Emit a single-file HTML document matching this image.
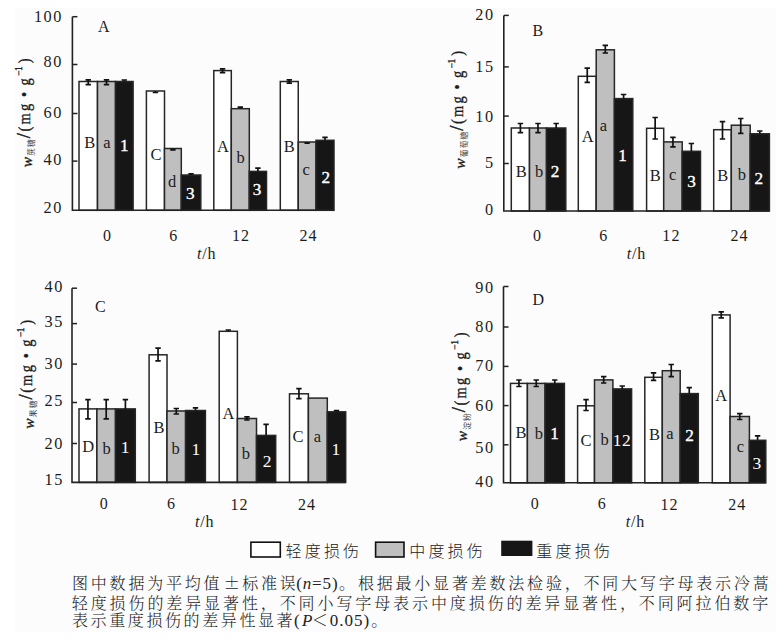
<!DOCTYPE html><html><head><meta charset="utf-8"><style>
html,body{margin:0;padding:0;background:#fff;overflow:hidden;}
svg{display:block;}
text{font-family:"Liberation Serif", serif;}
.cjs{font-family:"Liberation Sans","Noto Sans CJK SC",sans-serif;}
.cjr{font-family:"Liberation Serif","Noto Serif CJK SC",serif;}
</style></head><body>
<svg width="783" height="639" viewBox="0 0 783 639">
<rect width="783" height="639" fill="#fff"/>
<rect x="15.5" y="8" width="760.7" height="623.7" fill="#fcfcfc"/>
<rect x="79" y="81.5" width="18.5" height="128.8" fill="#fff" stroke="#262626" stroke-width="1.5"/>
<rect x="97.5" y="81.5" width="18" height="128.8" fill="#bfbfbf" stroke="#262626" stroke-width="1.5"/>
<rect x="115.5" y="81.5" width="17.6" height="128.8" fill="#161616" stroke="#262626" stroke-width="1.5"/>
<path d="M88.25 79.8V84.6M85.55 79.8H90.95M85.55 84.6H90.95" stroke="#111" stroke-width="1.7" fill="none"/>
<path d="M106.5 79.8V84.6M103.8 79.8H109.2M103.8 84.6H109.2" stroke="#111" stroke-width="1.7" fill="none"/>
<path d="M124.3 80V81.5M121.6 80H127" stroke="#111" stroke-width="1.7" fill="none"/>
<rect x="146.4" y="91" width="18.1" height="119.3" fill="#fff" stroke="#262626" stroke-width="1.5"/>
<rect x="164.5" y="148.5" width="16.8" height="61.8" fill="#bfbfbf" stroke="#262626" stroke-width="1.5"/>
<rect x="181.3" y="175" width="19.5" height="35.3" fill="#161616" stroke="#262626" stroke-width="1.5"/>
<path d="M155.45 91V92.5M152.75 92.5H158.15" stroke="#111" stroke-width="1.7" fill="none"/>
<path d="M172.9 148.5V149.9M170.2 149.9H175.6" stroke="#111" stroke-width="1.7" fill="none"/>
<path d="M191.05 173.8V175M188.35 173.8H193.75" stroke="#111" stroke-width="1.7" fill="none"/>
<rect x="213.8" y="70.6" width="17.5" height="139.7" fill="#fff" stroke="#262626" stroke-width="1.5"/>
<rect x="231.3" y="108.7" width="18" height="101.6" fill="#bfbfbf" stroke="#262626" stroke-width="1.5"/>
<rect x="249.3" y="171.4" width="17.2" height="38.9" fill="#161616" stroke="#262626" stroke-width="1.5"/>
<path d="M222.55 68.9V72.6M219.85 68.9H225.25M219.85 72.6H225.25" stroke="#111" stroke-width="1.7" fill="none"/>
<path d="M240.3 107.1V108.7M237.6 107.1H243" stroke="#111" stroke-width="1.7" fill="none"/>
<path d="M257.9 168.1V171.4M255.2 168.1H260.6" stroke="#111" stroke-width="1.7" fill="none"/>
<rect x="280.3" y="81.5" width="17.95" height="128.8" fill="#fff" stroke="#262626" stroke-width="1.5"/>
<rect x="298.25" y="142" width="17.75" height="68.3" fill="#bfbfbf" stroke="#262626" stroke-width="1.5"/>
<rect x="316" y="140.3" width="18" height="70" fill="#161616" stroke="#262626" stroke-width="1.5"/>
<path d="M289.27 79.9V83.2M286.57 79.9H291.97M286.57 83.2H291.97" stroke="#111" stroke-width="1.7" fill="none"/>
<path d="M307.12 142V143.2M304.43 143.2H309.82" stroke="#111" stroke-width="1.7" fill="none"/>
<path d="M325 137.4V140.3M322.3 137.4H327.7" stroke="#111" stroke-width="1.7" fill="none"/>
<path d="M72.4 16.7V210.3H334" stroke="#222" stroke-width="1.6" fill="none"/>
<path d="M72.4 16.7H77.4" stroke="#222" stroke-width="1.5"/>
<path d="M72.4 64.5H77.4" stroke="#222" stroke-width="1.5"/>
<path d="M72.4 113.5H77.4" stroke="#222" stroke-width="1.5"/>
<path d="M72.4 161.1H77.4" stroke="#222" stroke-width="1.5"/>
<text x="33.97" y="21.69" font-size="16.3" fill="#1c1c1c" letter-spacing="1.5">100</text>
<text x="43.62" y="67.14" font-size="16.3" fill="#1c1c1c" letter-spacing="1.5">80</text>
<text x="43.62" y="118.24" font-size="16.3" fill="#1c1c1c" letter-spacing="1.5">60</text>
<text x="43.62" y="164.84" font-size="16.3" fill="#1c1c1c" letter-spacing="1.5">40</text>
<text x="43.62" y="212.94" font-size="16.3" fill="#1c1c1c" letter-spacing="1.5">20</text>
<text x="102.9" y="240.84" font-size="16" fill="#1c1c1c" letter-spacing="1.1">0</text>
<text x="169.29" y="240.82" font-size="16" fill="#1c1c1c" letter-spacing="1.1">6</text>
<text x="231.99" y="240.9" font-size="16" fill="#1c1c1c" letter-spacing="1.1">12</text>
<text x="299.42" y="240.9" font-size="16" fill="#1c1c1c" letter-spacing="1.1">24</text>
<text x="197.08" y="259.17" font-size="16" letter-spacing="0.8" fill="#1c1c1c"><tspan font-style="italic">t</tspan>/h</text>
<text x="98.1" y="32.08" font-size="16" fill="#1c1c1c">A</text>
<text x="84.26" y="148.48" font-size="16.5" fill="#1c1c1c">B</text>
<text x="103.36" y="148.29" font-size="16.5" fill="#1c1c1c">a</text>
<text x="120.06" y="150.78" font-size="17.2" fill="#fff" stroke="#fff" stroke-width="0.35">1</text>
<text x="150.41" y="159.98" font-size="16.5" fill="#1c1c1c">C</text>
<text x="167.88" y="186.64" font-size="16.5" fill="#1c1c1c">d</text>
<text x="185.97" y="198.91" font-size="17.2" fill="#fff" stroke="#fff" stroke-width="0.35">3</text>
<text x="217.02" y="152.45" font-size="16.5" fill="#1c1c1c">A</text>
<text x="236.59" y="162.64" font-size="16.5" fill="#1c1c1c">b</text>
<text x="252.72" y="195.41" font-size="17.2" fill="#fff" stroke="#fff" stroke-width="0.35">3</text>
<text x="283.66" y="152.38" font-size="16.5" fill="#1c1c1c">B</text>
<text x="302.58" y="174.81" font-size="16.5" fill="#1c1c1c">c</text>
<text x="321.5" y="182.99" font-size="17.2" fill="#fff" stroke="#fff" stroke-width="0.35">2</text>
<g transform="translate(30.4 167.3) rotate(-90)">
<text transform="translate(-0.07 1.6) scale(1 1)" font-size="15.5" fill="#1c1c1c" stroke="#1c1c1c" stroke-width="0.35" font-style="italic">w</text>
<text class="cjs" x="11.46" y="4" font-size="7.8" fill="#444">蔗</text>
<text class="cjs" x="20.31" y="4" font-size="7.8" fill="#444">糖</text>
<text transform="translate(29 -0.4) scale(1 1)" font-size="18.5" fill="#1c1c1c" stroke="#1c1c1c" stroke-width="0.35">/</text>
<text transform="translate(35.77 0) scale(0.9 1)" font-size="16" fill="#1c1c1c" stroke="#1c1c1c" stroke-width="0.35">(</text>
<text transform="translate(42.7 0) scale(0.9 1)" font-size="16" fill="#1c1c1c" stroke="#1c1c1c" stroke-width="0.35">m</text>
<text transform="translate(56.28 0) scale(0.9 1)" font-size="16" fill="#1c1c1c" stroke="#1c1c1c" stroke-width="0.35">g</text>
<text transform="translate(70.29 0) scale(0.9 1)" font-size="16" fill="#1c1c1c" stroke="#1c1c1c" stroke-width="0.35">•</text>
<text transform="translate(81.78 0) scale(0.9 1)" font-size="16" fill="#1c1c1c" stroke="#1c1c1c" stroke-width="0.35">g</text>
<text transform="translate(91.53 -8.2) scale(1 1)" font-size="9.5" fill="#1c1c1c" stroke="#1c1c1c" stroke-width="0.35">−</text>
<text transform="translate(96.37 -8.2) scale(1 1)" font-size="9.5" fill="#1c1c1c" stroke="#1c1c1c" stroke-width="0.35">1</text>
<text transform="translate(103.94 0) scale(0.9 1)" font-size="16" fill="#1c1c1c" stroke="#1c1c1c" stroke-width="0.35">)</text>
</g>
<rect x="511.3" y="128" width="18.2" height="83" fill="#fff" stroke="#262626" stroke-width="1.5"/>
<rect x="529.5" y="128" width="17" height="83" fill="#bfbfbf" stroke="#262626" stroke-width="1.5"/>
<rect x="546.5" y="128" width="19.3" height="83" fill="#161616" stroke="#262626" stroke-width="1.5"/>
<path d="M520.4 123.5V132.6M517.7 123.5H523.1M517.7 132.6H523.1" stroke="#111" stroke-width="1.7" fill="none"/>
<path d="M538 123.5V132.6M535.3 123.5H540.7M535.3 132.6H540.7" stroke="#111" stroke-width="1.7" fill="none"/>
<path d="M556.15 123.5V128M553.45 123.5H558.85" stroke="#111" stroke-width="1.7" fill="none"/>
<rect x="578.3" y="76.3" width="17.9" height="134.7" fill="#fff" stroke="#262626" stroke-width="1.5"/>
<rect x="596.2" y="49.8" width="18.2" height="161.2" fill="#bfbfbf" stroke="#262626" stroke-width="1.5"/>
<rect x="614.4" y="98.6" width="18.4" height="112.4" fill="#161616" stroke="#262626" stroke-width="1.5"/>
<path d="M587.25 68.2V82.4M584.55 68.2H589.95M584.55 82.4H589.95" stroke="#111" stroke-width="1.7" fill="none"/>
<path d="M605.3 45.4V53M602.6 45.4H608M602.6 53H608" stroke="#111" stroke-width="1.7" fill="none"/>
<path d="M623.6 94.5V98.6M620.9 94.5H626.3" stroke="#111" stroke-width="1.7" fill="none"/>
<rect x="646.6" y="128.3" width="17.1" height="82.7" fill="#fff" stroke="#262626" stroke-width="1.5"/>
<rect x="663.7" y="141.9" width="18.5" height="69.1" fill="#bfbfbf" stroke="#262626" stroke-width="1.5"/>
<rect x="682.2" y="151.3" width="18.3" height="59.7" fill="#161616" stroke="#262626" stroke-width="1.5"/>
<path d="M655.15 117.5V139M652.45 117.5H657.85M652.45 139H657.85" stroke="#111" stroke-width="1.7" fill="none"/>
<path d="M672.95 137.4V146.8M670.25 137.4H675.65M670.25 146.8H675.65" stroke="#111" stroke-width="1.7" fill="none"/>
<path d="M691.35 143.5V151.3M688.65 143.5H694.05" stroke="#111" stroke-width="1.7" fill="none"/>
<rect x="713.7" y="129.7" width="17.6" height="81.3" fill="#fff" stroke="#262626" stroke-width="1.5"/>
<rect x="731.3" y="125.2" width="18.9" height="85.8" fill="#bfbfbf" stroke="#262626" stroke-width="1.5"/>
<rect x="750.2" y="133.8" width="19.2" height="77.2" fill="#161616" stroke="#262626" stroke-width="1.5"/>
<path d="M722.5 121.6V139M719.8 121.6H725.2M719.8 139H725.2" stroke="#111" stroke-width="1.7" fill="none"/>
<path d="M740.75 118.5V133.3M738.05 118.5H743.45M738.05 133.3H743.45" stroke="#111" stroke-width="1.7" fill="none"/>
<path d="M759.8 131V133.8M757.1 131H762.5" stroke="#111" stroke-width="1.7" fill="none"/>
<path d="M503.8 15.4V211H769.4" stroke="#222" stroke-width="1.6" fill="none"/>
<path d="M503.8 15.4H508.8" stroke="#222" stroke-width="1.5"/>
<path d="M503.8 66.9H508.8" stroke="#222" stroke-width="1.5"/>
<path d="M503.8 116.1H508.8" stroke="#222" stroke-width="1.5"/>
<path d="M503.8 163.5H508.8" stroke="#222" stroke-width="1.5"/>
<text x="475.32" y="20.29" font-size="16.3" fill="#1c1c1c" letter-spacing="1.5">20</text>
<text x="475.34" y="72" font-size="16.3" fill="#1c1c1c" letter-spacing="1.5">15</text>
<text x="475.32" y="122.44" font-size="16.3" fill="#1c1c1c" letter-spacing="1.5">10</text>
<text x="484.99" y="168.16" font-size="16.3" fill="#1c1c1c" letter-spacing="1.5">5</text>
<text x="484.97" y="215.44" font-size="16.3" fill="#1c1c1c" letter-spacing="1.5">0</text>
<text x="532.9" y="240.84" font-size="16" fill="#1c1c1c" letter-spacing="1.1">0</text>
<text x="599.29" y="240.82" font-size="16" fill="#1c1c1c" letter-spacing="1.1">6</text>
<text x="662.29" y="240.9" font-size="16" fill="#1c1c1c" letter-spacing="1.1">12</text>
<text x="730.42" y="240.9" font-size="16" fill="#1c1c1c" letter-spacing="1.1">24</text>
<text x="626.78" y="259.17" font-size="16" letter-spacing="0.8" fill="#1c1c1c"><tspan font-style="italic">t</tspan>/h</text>
<text x="532.62" y="35.51" font-size="16" fill="#1c1c1c">B</text>
<text x="515.66" y="176.58" font-size="16.5" fill="#1c1c1c">B</text>
<text x="534.94" y="176.84" font-size="16.5" fill="#1c1c1c">b</text>
<text x="550.8" y="177.29" font-size="17.2" fill="#fff" stroke="#fff" stroke-width="0.35">2</text>
<text x="581.72" y="142.15" font-size="16.5" fill="#1c1c1c">A</text>
<text x="599.86" y="130.79" font-size="16.5" fill="#1c1c1c">a</text>
<text x="618.36" y="161.48" font-size="17.2" fill="#fff" stroke="#fff" stroke-width="0.35">1</text>
<text x="649.86" y="180.98" font-size="16.5" fill="#1c1c1c">B</text>
<text x="668.88" y="180.31" font-size="16.5" fill="#1c1c1c">c</text>
<text x="687.32" y="186.61" font-size="17.2" fill="#fff" stroke="#fff" stroke-width="0.35">3</text>
<text x="717.36" y="180.98" font-size="16.5" fill="#1c1c1c">B</text>
<text x="737.79" y="179.94" font-size="16.5" fill="#1c1c1c">b</text>
<text x="754.5" y="183.69" font-size="17.2" fill="#fff" stroke="#fff" stroke-width="0.35">2</text>
<g transform="translate(463.1 168.6) rotate(-90)">
<text transform="translate(-0.07 1.6) scale(1 1)" font-size="15.5" fill="#1c1c1c" stroke="#1c1c1c" stroke-width="0.35" font-style="italic">w</text>
<text class="cjs" x="11.46" y="4" font-size="7.8" fill="#444">葡</text>
<text class="cjs" x="20.31" y="4" font-size="7.8" fill="#444">萄</text>
<text class="cjs" x="29.16" y="4" font-size="7.8" fill="#444">糖</text>
<text transform="translate(37.8 -0.4) scale(1 1)" font-size="18.5" fill="#1c1c1c" stroke="#1c1c1c" stroke-width="0.35">/</text>
<text transform="translate(44.57 0) scale(0.9 1)" font-size="16" fill="#1c1c1c" stroke="#1c1c1c" stroke-width="0.35">(</text>
<text transform="translate(51.5 0) scale(0.9 1)" font-size="16" fill="#1c1c1c" stroke="#1c1c1c" stroke-width="0.35">m</text>
<text transform="translate(65.08 0) scale(0.9 1)" font-size="16" fill="#1c1c1c" stroke="#1c1c1c" stroke-width="0.35">g</text>
<text transform="translate(79.09 0) scale(0.9 1)" font-size="16" fill="#1c1c1c" stroke="#1c1c1c" stroke-width="0.35">•</text>
<text transform="translate(90.58 0) scale(0.9 1)" font-size="16" fill="#1c1c1c" stroke="#1c1c1c" stroke-width="0.35">g</text>
<text transform="translate(100.33 -8.2) scale(1 1)" font-size="9.5" fill="#1c1c1c" stroke="#1c1c1c" stroke-width="0.35">−</text>
<text transform="translate(105.17 -8.2) scale(1 1)" font-size="9.5" fill="#1c1c1c" stroke="#1c1c1c" stroke-width="0.35">1</text>
<text transform="translate(112.74 0) scale(0.9 1)" font-size="16" fill="#1c1c1c" stroke="#1c1c1c" stroke-width="0.35">)</text>
</g>
<rect x="79" y="408.9" width="17.9" height="73.5" fill="#fff" stroke="#262626" stroke-width="1.5"/>
<rect x="96.9" y="408.9" width="18.6" height="73.5" fill="#bfbfbf" stroke="#262626" stroke-width="1.5"/>
<rect x="115.5" y="408.9" width="19.8" height="73.5" fill="#161616" stroke="#262626" stroke-width="1.5"/>
<path d="M87.95 399.7V418.8M85.25 399.7H90.65M85.25 418.8H90.65" stroke="#111" stroke-width="1.7" fill="none"/>
<path d="M106.2 399.7V418.8M103.5 399.7H108.9M103.5 418.8H108.9" stroke="#111" stroke-width="1.7" fill="none"/>
<path d="M125.4 399.7V408.9M122.7 399.7H128.1" stroke="#111" stroke-width="1.7" fill="none"/>
<rect x="149.1" y="354.8" width="17.9" height="127.6" fill="#fff" stroke="#262626" stroke-width="1.5"/>
<rect x="167" y="411" width="18.6" height="71.4" fill="#bfbfbf" stroke="#262626" stroke-width="1.5"/>
<rect x="185.6" y="410.5" width="19.8" height="71.9" fill="#161616" stroke="#262626" stroke-width="1.5"/>
<path d="M158.05 348.2V360.9M155.35 348.2H160.75M155.35 360.9H160.75" stroke="#111" stroke-width="1.7" fill="none"/>
<path d="M176.3 408.5V414M173.6 408.5H179M173.6 414H179" stroke="#111" stroke-width="1.7" fill="none"/>
<path d="M195.5 407.8V410.5M192.8 407.8H198.2" stroke="#111" stroke-width="1.7" fill="none"/>
<rect x="219.2" y="331.3" width="18.2" height="151.1" fill="#fff" stroke="#262626" stroke-width="1.5"/>
<rect x="237.4" y="418.5" width="19.1" height="63.9" fill="#bfbfbf" stroke="#262626" stroke-width="1.5"/>
<rect x="256.5" y="435.4" width="19.2" height="47" fill="#161616" stroke="#262626" stroke-width="1.5"/>
<path d="M228.3 330V331.3M225.6 330H231" stroke="#111" stroke-width="1.7" fill="none"/>
<path d="M246.95 416.9V420M244.25 416.9H249.65M244.25 420H249.65" stroke="#111" stroke-width="1.7" fill="none"/>
<path d="M266.1 424.3V435.4M263.4 424.3H268.8" stroke="#111" stroke-width="1.7" fill="none"/>
<rect x="289.5" y="393.8" width="18.9" height="88.6" fill="#fff" stroke="#262626" stroke-width="1.5"/>
<rect x="308.4" y="398.1" width="18.9" height="84.3" fill="#bfbfbf" stroke="#262626" stroke-width="1.5"/>
<rect x="327.3" y="411.8" width="18.4" height="70.6" fill="#161616" stroke="#262626" stroke-width="1.5"/>
<path d="M298.95 388.6V398.6M296.25 388.6H301.65M296.25 398.6H301.65" stroke="#111" stroke-width="1.7" fill="none"/>
<path d="M336.5 410.6V411.8M333.8 410.6H339.2" stroke="#111" stroke-width="1.7" fill="none"/>
<path d="M72 288.2V482.4H345.7" stroke="#222" stroke-width="1.6" fill="none"/>
<path d="M72 288.2H77" stroke="#222" stroke-width="1.5"/>
<path d="M72 323.6H77" stroke="#222" stroke-width="1.5"/>
<path d="M72 364.1H77" stroke="#222" stroke-width="1.5"/>
<path d="M72 402.5H77" stroke="#222" stroke-width="1.5"/>
<path d="M72 443.5H77" stroke="#222" stroke-width="1.5"/>
<text x="44.52" y="291.94" font-size="16.3" fill="#1c1c1c" letter-spacing="1.5">40</text>
<text x="44.54" y="326.82" font-size="16.3" fill="#1c1c1c" letter-spacing="1.5">35</text>
<text x="44.52" y="368.84" font-size="16.3" fill="#1c1c1c" letter-spacing="1.5">30</text>
<text x="44.54" y="406.22" font-size="16.3" fill="#1c1c1c" letter-spacing="1.5">25</text>
<text x="44.52" y="449.34" font-size="16.3" fill="#1c1c1c" letter-spacing="1.5">20</text>
<text x="44.54" y="484.5" font-size="16.3" fill="#1c1c1c" letter-spacing="1.5">15</text>
<text x="99.8" y="509.44" font-size="16" fill="#1c1c1c" letter-spacing="1.1">0</text>
<text x="167.09" y="509.42" font-size="16" fill="#1c1c1c" letter-spacing="1.1">6</text>
<text x="230.49" y="509.5" font-size="16" fill="#1c1c1c" letter-spacing="1.1">12</text>
<text x="297.92" y="509.5" font-size="16" fill="#1c1c1c" letter-spacing="1.1">24</text>
<text x="194.98" y="526.77" font-size="16" letter-spacing="0.8" fill="#1c1c1c"><tspan font-style="italic">t</tspan>/h</text>
<text x="94.98" y="311.82" font-size="16" fill="#1c1c1c">C</text>
<text x="82.23" y="452.29" font-size="16.5" fill="#1c1c1c">D</text>
<text x="102.44" y="453.64" font-size="16.5" fill="#1c1c1c">b</text>
<text x="120.78" y="452.78" font-size="17.5" fill="#fff">1</text>
<text x="153.46" y="432.58" font-size="16.5" fill="#1c1c1c">B</text>
<text x="171.59" y="454.14" font-size="16.5" fill="#1c1c1c">b</text>
<text x="191.38" y="455.38" font-size="17.5" fill="#fff">1</text>
<text x="222.52" y="418.85" font-size="16.5" fill="#1c1c1c">A</text>
<text x="241.69" y="458.94" font-size="16.5" fill="#1c1c1c">b</text>
<text x="262.72" y="467.49" font-size="17.5" fill="#fff">2</text>
<text x="292.61" y="442.18" font-size="16.5" fill="#1c1c1c">C</text>
<text x="313.66" y="442.29" font-size="16.5" fill="#1c1c1c">a</text>
<text x="331.38" y="454.68" font-size="17.5" fill="#fff">1</text>
<g transform="translate(32.4 428.6) rotate(-90)">
<text transform="translate(-0.07 1.6) scale(1 1)" font-size="15.5" fill="#1c1c1c" stroke="#1c1c1c" stroke-width="0.35" font-style="italic">w</text>
<text class="cjs" x="11.46" y="4" font-size="7.8" fill="#444">果</text>
<text class="cjs" x="20.31" y="4" font-size="7.8" fill="#444">糖</text>
<text transform="translate(29 -0.4) scale(1 1)" font-size="18.5" fill="#1c1c1c" stroke="#1c1c1c" stroke-width="0.35">/</text>
<text transform="translate(35.77 0) scale(0.9 1)" font-size="16" fill="#1c1c1c" stroke="#1c1c1c" stroke-width="0.35">(</text>
<text transform="translate(42.7 0) scale(0.9 1)" font-size="16" fill="#1c1c1c" stroke="#1c1c1c" stroke-width="0.35">m</text>
<text transform="translate(56.28 0) scale(0.9 1)" font-size="16" fill="#1c1c1c" stroke="#1c1c1c" stroke-width="0.35">g</text>
<text transform="translate(70.29 0) scale(0.9 1)" font-size="16" fill="#1c1c1c" stroke="#1c1c1c" stroke-width="0.35">•</text>
<text transform="translate(81.78 0) scale(0.9 1)" font-size="16" fill="#1c1c1c" stroke="#1c1c1c" stroke-width="0.35">g</text>
<text transform="translate(91.53 -8.2) scale(1 1)" font-size="9.5" fill="#1c1c1c" stroke="#1c1c1c" stroke-width="0.35">−</text>
<text transform="translate(96.37 -8.2) scale(1 1)" font-size="9.5" fill="#1c1c1c" stroke="#1c1c1c" stroke-width="0.35">1</text>
<text transform="translate(103.94 0) scale(0.9 1)" font-size="16" fill="#1c1c1c" stroke="#1c1c1c" stroke-width="0.35">)</text>
</g>
<rect x="510.5" y="383.4" width="16.9" height="99.4" fill="#fff" stroke="#262626" stroke-width="1.5"/>
<rect x="527.4" y="383.4" width="17.7" height="99.4" fill="#bfbfbf" stroke="#262626" stroke-width="1.5"/>
<rect x="545.1" y="383.4" width="19.3" height="99.4" fill="#161616" stroke="#262626" stroke-width="1.5"/>
<path d="M518.95 380V386.5M516.25 380H521.65M516.25 386.5H521.65" stroke="#111" stroke-width="1.7" fill="none"/>
<path d="M536.25 380V386.5M533.55 380H538.95M533.55 386.5H538.95" stroke="#111" stroke-width="1.7" fill="none"/>
<path d="M554.75 380V383.4M552.05 380H557.45" stroke="#111" stroke-width="1.7" fill="none"/>
<rect x="577.6" y="405.8" width="16.9" height="77" fill="#fff" stroke="#262626" stroke-width="1.5"/>
<rect x="594.5" y="379.9" width="18.4" height="102.9" fill="#bfbfbf" stroke="#262626" stroke-width="1.5"/>
<rect x="612.9" y="388.9" width="18.7" height="93.9" fill="#161616" stroke="#262626" stroke-width="1.5"/>
<path d="M586.05 399.7V410.5M583.35 399.7H588.75M583.35 410.5H588.75" stroke="#111" stroke-width="1.7" fill="none"/>
<path d="M603.7 376.7V383M601 376.7H606.4M601 383H606.4" stroke="#111" stroke-width="1.7" fill="none"/>
<path d="M622.25 386V388.9M619.55 386H624.95" stroke="#111" stroke-width="1.7" fill="none"/>
<rect x="644.8" y="377.3" width="17.5" height="105.5" fill="#fff" stroke="#262626" stroke-width="1.5"/>
<rect x="662.3" y="370.7" width="17.9" height="112.1" fill="#bfbfbf" stroke="#262626" stroke-width="1.5"/>
<rect x="680.2" y="393.6" width="18.1" height="89.2" fill="#161616" stroke="#262626" stroke-width="1.5"/>
<path d="M653.55 372.8V380.3M650.85 372.8H656.25M650.85 380.3H656.25" stroke="#111" stroke-width="1.7" fill="none"/>
<path d="M671.25 364.5V376.7M668.55 364.5H673.95M668.55 376.7H673.95" stroke="#111" stroke-width="1.7" fill="none"/>
<path d="M689.25 387.7V393.6M686.55 387.7H691.95" stroke="#111" stroke-width="1.7" fill="none"/>
<rect x="712.3" y="314.9" width="17.8" height="167.9" fill="#fff" stroke="#262626" stroke-width="1.5"/>
<rect x="730.1" y="416.5" width="19.3" height="66.3" fill="#bfbfbf" stroke="#262626" stroke-width="1.5"/>
<rect x="749.4" y="440.3" width="16.4" height="42.5" fill="#161616" stroke="#262626" stroke-width="1.5"/>
<path d="M721.2 311.9V317.8M718.5 311.9H723.9M718.5 317.8H723.9" stroke="#111" stroke-width="1.7" fill="none"/>
<path d="M739.75 413.6V419.5M737.05 413.6H742.45M737.05 419.5H742.45" stroke="#111" stroke-width="1.7" fill="none"/>
<path d="M757.6 435.9V440.3M754.9 435.9H760.3" stroke="#111" stroke-width="1.7" fill="none"/>
<path d="M503.5 286.5V482.8H765.8" stroke="#222" stroke-width="1.6" fill="none"/>
<path d="M503.5 286.5H508.5" stroke="#222" stroke-width="1.5"/>
<path d="M503.5 327H508.5" stroke="#222" stroke-width="1.5"/>
<path d="M503.5 366.4H508.5" stroke="#222" stroke-width="1.5"/>
<path d="M503.5 405.6H508.5" stroke="#222" stroke-width="1.5"/>
<path d="M503.5 444.8H508.5" stroke="#222" stroke-width="1.5"/>
<text x="475.32" y="292.84" font-size="16.3" fill="#1c1c1c" letter-spacing="1.5">90</text>
<text x="475.32" y="331.64" font-size="16.3" fill="#1c1c1c" letter-spacing="1.5">80</text>
<text x="475.32" y="371.14" font-size="16.3" fill="#1c1c1c" letter-spacing="1.5">70</text>
<text x="475.32" y="411.34" font-size="16.3" fill="#1c1c1c" letter-spacing="1.5">60</text>
<text x="475.32" y="452.84" font-size="16.3" fill="#1c1c1c" letter-spacing="1.5">50</text>
<text x="475.32" y="487.34" font-size="16.3" fill="#1c1c1c" letter-spacing="1.5">40</text>
<text x="530.7" y="509.44" font-size="16" fill="#1c1c1c" letter-spacing="1.1">0</text>
<text x="597.69" y="509.42" font-size="16" fill="#1c1c1c" letter-spacing="1.1">6</text>
<text x="660.49" y="509.5" font-size="16" fill="#1c1c1c" letter-spacing="1.1">12</text>
<text x="728.22" y="509.5" font-size="16" fill="#1c1c1c" letter-spacing="1.1">24</text>
<text x="625.68" y="526.77" font-size="16" letter-spacing="0.8" fill="#1c1c1c"><tspan font-style="italic">t</tspan>/h</text>
<text x="532.51" y="305.32" font-size="16" fill="#1c1c1c">D</text>
<text x="515.56" y="437.58" font-size="16.5" fill="#1c1c1c">B</text>
<text x="534.79" y="438.94" font-size="16.5" fill="#1c1c1c">b</text>
<text x="550.36" y="438.98" font-size="17.2" fill="#fff" stroke="#fff" stroke-width="0.35">1</text>
<text x="580.61" y="445.78" font-size="16.5" fill="#1c1c1c">C</text>
<text x="600.49" y="445.04" font-size="16.5" fill="#1c1c1c">b</text>
<text x="612.71" y="445.79" font-size="17.5" fill="#fff" letter-spacing="0.5">12</text>
<text x="648.96" y="439.78" font-size="16.5" fill="#1c1c1c">B</text>
<text x="666.26" y="439.09" font-size="16.5" fill="#1c1c1c">a</text>
<text x="685.2" y="440.99" font-size="17.2" fill="#fff" stroke="#fff" stroke-width="0.35">2</text>
<text x="715.22" y="401.15" font-size="16.5" fill="#1c1c1c">A</text>
<text x="736.78" y="451.81" font-size="16.5" fill="#1c1c1c">c</text>
<text x="752.45" y="468.61" font-size="17.5" fill="#fff">3</text>
<g transform="translate(465.8 441.2) rotate(-90)">
<text transform="translate(-0.07 1.6) scale(1 1)" font-size="15.5" fill="#1c1c1c" stroke="#1c1c1c" stroke-width="0.35" font-style="italic">w</text>
<text class="cjs" x="11.46" y="4" font-size="7.8" fill="#444">淀</text>
<text class="cjs" x="20.31" y="4" font-size="7.8" fill="#444">粉</text>
<text transform="translate(29 -0.4) scale(1 1)" font-size="18.5" fill="#1c1c1c" stroke="#1c1c1c" stroke-width="0.35">/</text>
<text transform="translate(35.77 0) scale(0.9 1)" font-size="16" fill="#1c1c1c" stroke="#1c1c1c" stroke-width="0.35">(</text>
<text transform="translate(42.7 0) scale(0.9 1)" font-size="16" fill="#1c1c1c" stroke="#1c1c1c" stroke-width="0.35">m</text>
<text transform="translate(56.28 0) scale(0.9 1)" font-size="16" fill="#1c1c1c" stroke="#1c1c1c" stroke-width="0.35">g</text>
<text transform="translate(70.29 0) scale(0.9 1)" font-size="16" fill="#1c1c1c" stroke="#1c1c1c" stroke-width="0.35">•</text>
<text transform="translate(81.78 0) scale(0.9 1)" font-size="16" fill="#1c1c1c" stroke="#1c1c1c" stroke-width="0.35">g</text>
<text transform="translate(91.53 -8.2) scale(1 1)" font-size="9.5" fill="#1c1c1c" stroke="#1c1c1c" stroke-width="0.35">−</text>
<text transform="translate(96.37 -8.2) scale(1 1)" font-size="9.5" fill="#1c1c1c" stroke="#1c1c1c" stroke-width="0.35">1</text>
<text transform="translate(103.94 0) scale(0.9 1)" font-size="16" fill="#1c1c1c" stroke="#1c1c1c" stroke-width="0.35">)</text>
</g>
<rect x="250.9" y="542.2" width="29.4" height="14.8" fill="#fff" stroke="#111" stroke-width="1.6"/>
<rect x="375.6" y="542.2" width="28.4" height="14.8" fill="#bfbfbf" stroke="#111" stroke-width="1.6"/>
<rect x="501.2" y="540.7" width="31.2" height="15.3" fill="#161616"/>
<text x="285.5" y="557" font-size="16" style='font-family:"Liberation Sans","Noto Sans CJK SC",sans-serif;font-weight:300;letter-spacing:3.2px' fill="#222">轻度损伤</text>
<text x="409.2" y="557" font-size="16" style='font-family:"Liberation Sans","Noto Sans CJK SC",sans-serif;font-weight:300;letter-spacing:3.2px' fill="#222">中度损伤</text>
<text x="536.3" y="557" font-size="16" style='font-family:"Liberation Sans","Noto Sans CJK SC",sans-serif;font-weight:300;letter-spacing:3.2px' fill="#222">重度损伤</text>
<text x="72 90.8 109.6 128.4 147.2 166 184.8 203.6" y="589.4" font-size="16" style='font-family:"Liberation Serif","Noto Serif CJK SC",serif;font-weight:300' fill="#222">图中数据为平均值</text>
<text x="223.8" y="589.4" font-size="16" style='font-family:"Noto Serif CJK SC",serif;font-weight:300' fill="#222">±</text>
<text x="242.2 261 279.8" y="589.4" font-size="16" style='font-family:"Liberation Serif","Noto Serif CJK SC",serif;font-weight:300' fill="#222">标准误</text>
<text y="589.4" font-size="17" fill="#222"><tspan x="296.15">(</tspan><tspan x="302.71" font-style="italic">n</tspan><tspan x="312.11">=</tspan><tspan x="322.6">5</tspan><tspan x="332">)</tspan></text>
<text x="339.1 357.9 376.7 395.5 414.3 433.1 451.9 470.7 489.5 508.3 527.1 545.9 564.7 583.5 602.3 621.1 639.9 658.7 677.5 696.3 715.1 733.9 752.7" y="589.4" font-size="16" style='font-family:"Liberation Serif","Noto Serif CJK SC",serif;font-weight:300' fill="#222">。根据最小显著差数法检验，不同大写字母表示冷蒿</text>
<text x="71.8 90.7 109.6 128.5 147.4 166.3 185.2 204.1 223 241.9 260.8 279.7 298.6 317.5 336.4 355.3 374.2 393.1 412 430.9 449.8 468.7 487.6 506.5 525.4 544.3 563.2 582.1 601 619.9 638.8 657.7 676.6 695.5 714.4 733.3 752.2" y="608.6" font-size="16" style='font-family:"Liberation Serif","Noto Serif CJK SC",serif;font-weight:300' fill="#222">轻度损伤的差异显著性，不同小写字母表示中度损伤的差异显著性，不同阿拉伯数字</text>
<text x="72 90.6 109.2 127.8 146.4 165 183.6 202.2 220.8 239.4 258 276.6" y="626" font-size="16" style='font-family:"Liberation Serif","Noto Serif CJK SC",serif;font-weight:300' fill="#222">表示重度损伤的差异性显著</text>
<text y="626" font-size="17" fill="#222"><tspan x="294.05">(</tspan><tspan x="302.11" font-style="italic">P</tspan></text>
<text x="311.8" y="626" font-size="16" style='font-family:"Liberation Serif","Noto Serif CJK SC",serif;font-weight:300' fill="#222">＜</text>
<text y="626" font-size="17" fill="#222"><tspan x="329.75">0</tspan><tspan x="339.25">.</tspan><tspan x="344.5">0</tspan><tspan x="354">5</tspan><tspan x="363.5">)</tspan></text>
<text x="371.2" y="626" font-size="16" style='font-family:"Liberation Serif","Noto Serif CJK SC",serif;font-weight:300' fill="#222">。</text>
</svg>
</body></html>
